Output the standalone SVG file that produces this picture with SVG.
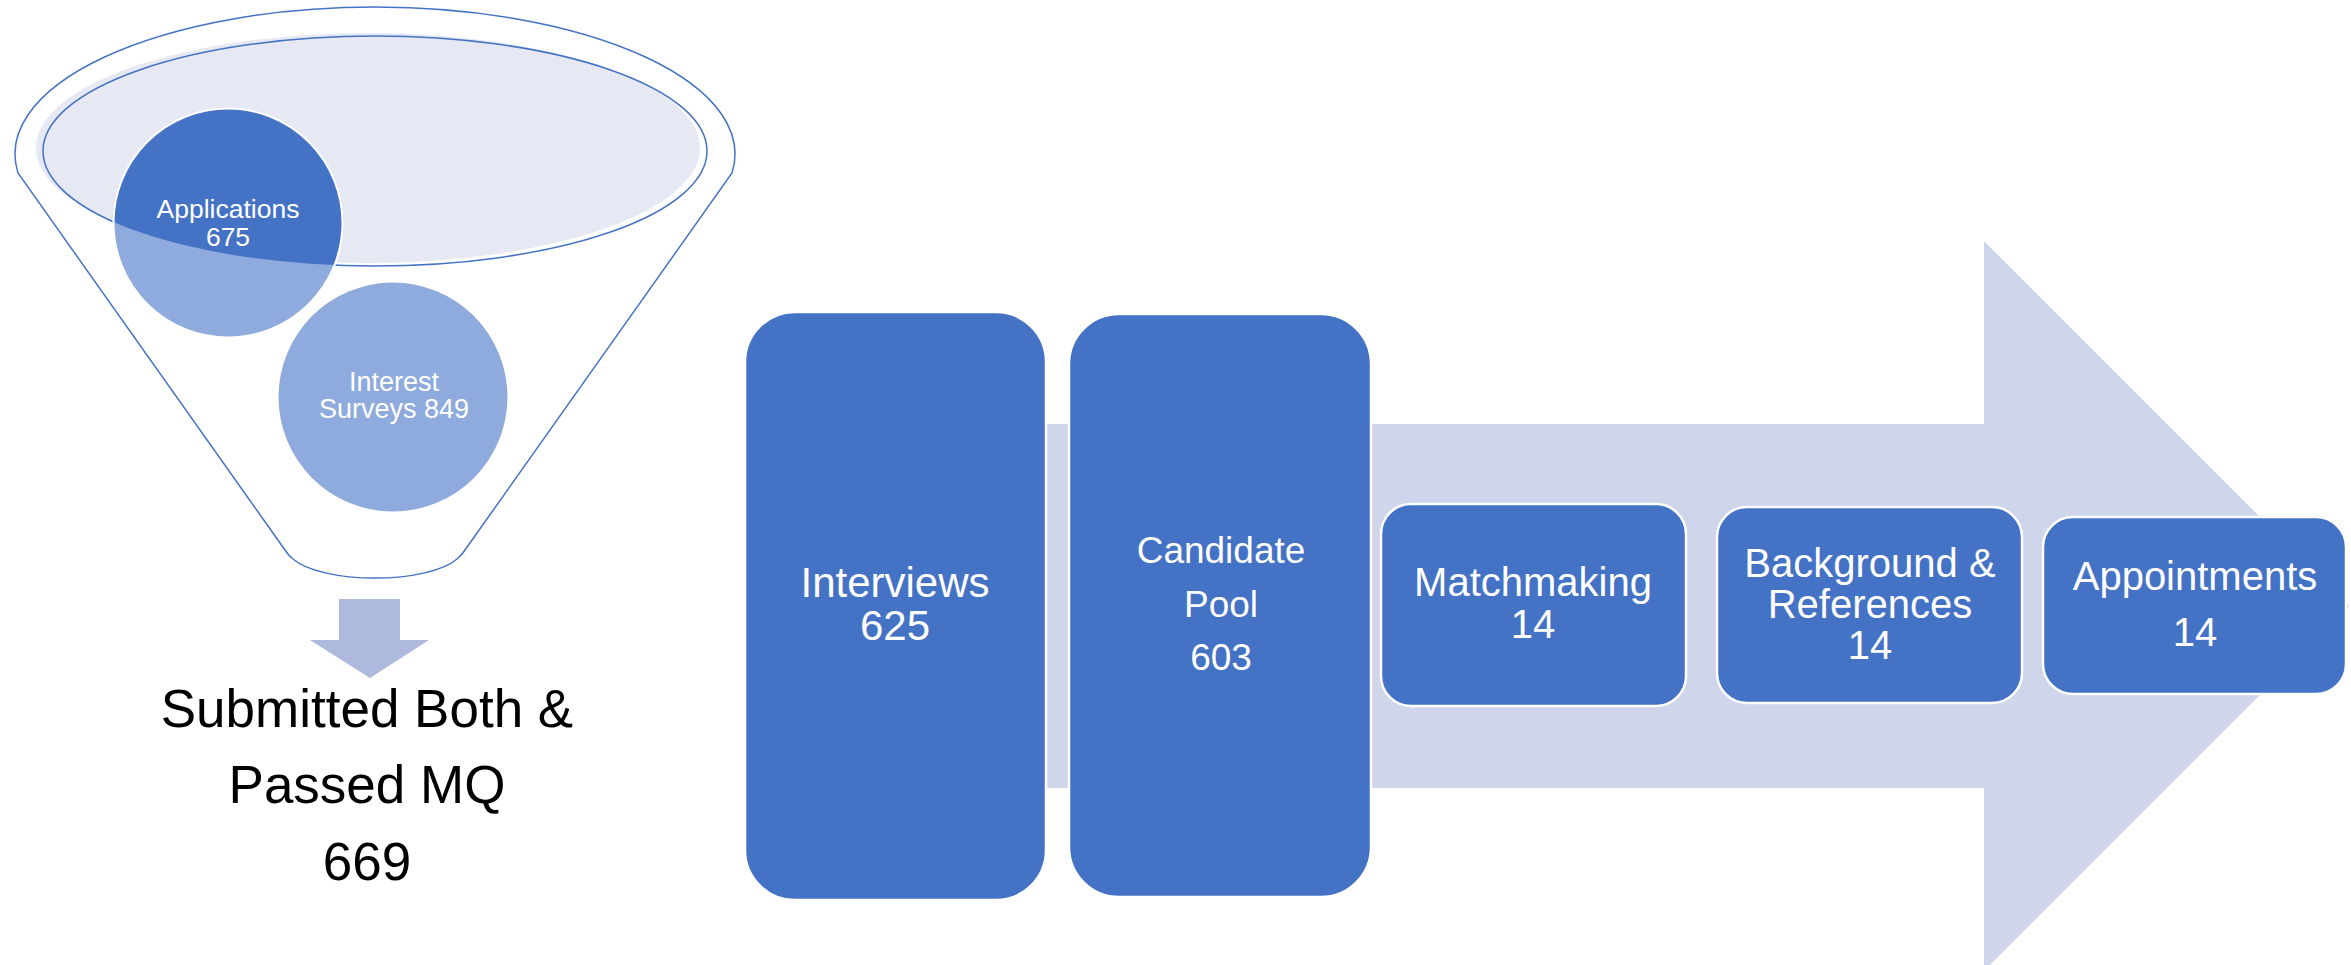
<svg xmlns="http://www.w3.org/2000/svg" width="2351" height="965" viewBox="0 0 2351 965">
  <defs>
    <style>
      .lbl { font-family: "Liberation Sans", Arial, sans-serif; text-anchor: middle; fill: #ffffff; }
      .ink { fill: #000000; }
      .dark { fill: #4472c4; }
      .light { fill: #8faadc; }
      .ring { fill: none; stroke: #ffffff; stroke-width: 2; }
      .step { fill: #4472c4; stroke: #ffffff; stroke-width: 2.5; }
      .outline { fill: none; stroke: #4472c4; stroke-width: 1.5; }
      .flow { fill: #cfd5ea; }
      .drop { fill: #adb9dd; }
    </style>
    <!-- mouth of the funnel, used to tint the part of a circle that sits inside it -->
    <clipPath id="mouthClip">
      <ellipse cx="375" cy="151" rx="332" ry="115"/>
    </clipPath>
  </defs>

  <rect width="2351" height="965" fill="#ffffff"/>

  <!-- connectors: big process arrow and the funnel outlet arrow -->
  <g id="connectors">
    <path class="flow" d="M745,424 L1984,424 L1984,241 L2349,606 L1984,971 L1984,788 L745,788 Z"/>
    <polygon class="drop" points="339,599 400,599 400,640 429,640 370,678 310,640 339,640"/>
  </g>

  <!-- funnel -->
  <g id="funnel">
    <path class="outline" d="M18,173 A360 147 0 1 1 732,173 L465,550 Q462,555 457,559 A88 30 0 0 1 293,559 Q288,555 285,550 Z" fill="#ffffff"/>
    <ellipse cx="368" cy="148" rx="332" ry="115" fill="#e6e8f4"/>
    <ellipse class="outline" cx="375" cy="151" rx="332" ry="115"/>
  </g>

  <g id="applications">
    <circle class="light" cx="228" cy="223" r="114.5"/>
    <circle class="dark" cx="228" cy="223" r="114.5" clip-path="url(#mouthClip)"/>
    <circle class="ring" cx="228" cy="223" r="114.5"/>
    <text class="lbl" x="228" y="218" font-size="26.5">Applications</text>
    <text class="lbl" x="228" y="246" font-size="26.5">675</text>
  </g>

  <g id="interest-surveys">
    <circle class="light" cx="393" cy="397" r="114.5"/>
    <text class="lbl" x="394" y="391" font-size="27">Interest</text>
    <text class="lbl" x="394" y="418" font-size="27">Surveys 849</text>
  </g>

  <g id="submitted">
    <text class="lbl ink" x="367" y="727" font-size="53">Submitted Both &amp;</text>
    <text class="lbl ink" x="367" y="803" font-size="53">Passed MQ</text>
    <text class="lbl ink" x="367" y="880" font-size="53">669</text>
  </g>

  <g id="interviews">
    <rect class="step" x="745" y="312" width="301" height="588" rx="50" ry="50"/>
    <text class="lbl" x="895" y="597" font-size="42">Interviews</text>
    <text class="lbl" x="895" y="640" font-size="42">625</text>
  </g>

  <g id="candidate-pool">
    <rect class="step" x="1069" y="314" width="302" height="583" rx="50" ry="50"/>
    <text class="lbl" x="1221" y="563" font-size="37">Candidate</text>
    <text class="lbl" x="1221" y="617" font-size="37">Pool</text>
    <text class="lbl" x="1221" y="670" font-size="37">603</text>
  </g>

  <g id="matchmaking">
    <rect class="step" x="1381" y="504" width="305" height="202" rx="30" ry="30"/>
    <text class="lbl" x="1533" y="596" font-size="40">Matchmaking</text>
    <text class="lbl" x="1533" y="638" font-size="40">14</text>
  </g>

  <g id="background-references">
    <rect class="step" x="1717" y="507" width="305" height="196" rx="30" ry="30"/>
    <text class="lbl" x="1870" y="577" font-size="40">Background &amp;</text>
    <text class="lbl" x="1870" y="618" font-size="40">References</text>
    <text class="lbl" x="1870" y="659" font-size="40">14</text>
  </g>

  <g id="appointments">
    <rect class="step" x="2043" y="517" width="303" height="177" rx="30" ry="30"/>
    <text class="lbl" x="2195" y="590" font-size="40">Appointments</text>
    <text class="lbl" x="2195" y="646" font-size="40">14</text>
  </g>
</svg>
